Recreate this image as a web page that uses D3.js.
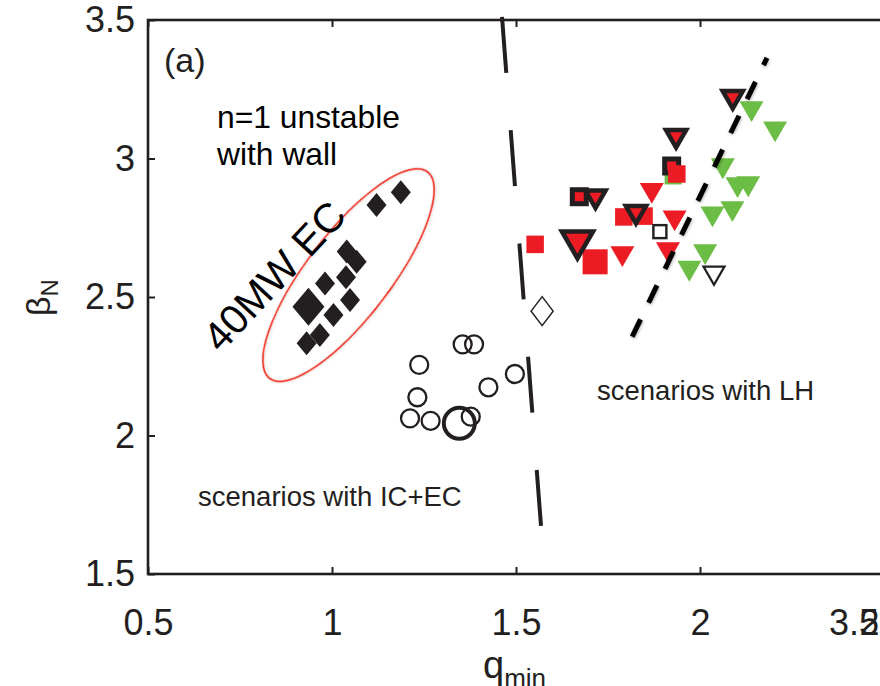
<!DOCTYPE html>
<html>
<head>
<meta charset="utf-8">
<script src="https://cdn.jsdelivr.net/npm/d3@7"></script>
<style>
  html, body { margin: 0; padding: 0; background: #fff; overflow: hidden; }
  svg { display: block; font-family: "Liberation Sans", Arial, Helvetica, sans-serif; }
</style>
</head>
<body>
<svg id="chart" width="880" height="686"></svg>
<script>
// Axis ticks
const xTicks = [0.5, 1, 1.5, 2, 2.5];
const yTicks = [1.5, 2, 2.5, 3, 3.5];

// 40 MW EC cases: [q_min, beta_N]
const ecDiamonds = [[1.187, 2.878], [1.121, 2.832], [1.040, 2.664], [1.067, 2.627], [0.981, 2.549],
                    [1.038, 2.571], [1.049, 2.489], [1.004, 2.435], [0.967, 2.363], [0.931, 2.333]];
const ecDiamondsLarge = [[0.936, 2.465]];

// IC+EC scenarios
const icecCircles = [[1.355, 2.329], [1.386, 2.329], [1.237, 2.255], [1.497, 2.222], [1.425, 2.174],
                     [1.232, 2.138], [1.212, 2.062], [1.268, 2.053], [1.377, 2.068]];
const icecCirclesLarge = [[1.346, 2.044]];
const openDiamonds = [[1.571, 2.449]];

// LH scenarios
const lhGreenTriangles = [[2.140, 3.169], [2.204, 3.096], [2.062, 2.963], [2.102, 2.895], [2.131, 2.898],
                          [2.034, 2.789], [2.088, 2.808], [2.014, 2.653], [1.971, 2.593]];
const lhGreenSquares = [[1.927, 2.937]];
const lhOutlinedSquares = [[1.672, 2.862], [1.923, 2.973]];
const lhRedSquares = [[1.552, 2.690], [1.793, 2.789], [1.848, 2.792], [1.937, 2.944]];
const lhRedSquaresLarge = [[1.715, 2.627]];
const lhRedTriangles = [[1.789, 2.646], [1.869, 2.874], [1.931, 2.775], [1.913, 2.660]];
const lhOutlinedTriangles = [[1.716, 2.849], [1.826, 2.793], [1.935, 3.067], [2.089, 3.208]];
const lhOutlinedTrianglesLarge = [[1.667, 2.684]];
const openSquares = [[1.891, 2.736]];
const openTriangles = [[2.038, 2.577]];

// Boundaries between regions
const icecBoundary = [[1.462, 3.511], [1.568, 1.673]];
const lhBoundary = [[2.182, 3.363], [1.810, 2.341]];

// Outline round the 40 MW EC group (centre in data units)
const ecGroupCentre = [1.045, 2.579];

const INK = "#231f20", RED = "#ed1c24", GREEN = "#6cbd45";

const svg = d3.select("#chart");
const x = d3.scaleLinear().domain([0.5, 2.5]).range([148, 884]);
const y = d3.scaleLinear().domain([1.5, 3.5]).range([574, 20]);

const defs = svg.append("defs");
const shadow = defs.append("filter").attr("id", "soft").attr("x", "-20%").attr("y", "-20%")
  .attr("width", "140%").attr("height", "140%");
shadow.append("feDropShadow").attr("dx", 0.5).attr("dy", 1).attr("stdDeviation", 1.8)
  .attr("flood-color", "#000").attr("flood-opacity", 0.35);
const faint = defs.append("filter").attr("id", "faint").attr("x", "-10%").attr("y", "-10%")
  .attr("width", "120%").attr("height", "120%");
faint.append("feDropShadow").attr("dx", 0.5).attr("dy", 1).attr("stdDeviation", 1.5)
  .attr("flood-color", "#000").attr("flood-opacity", 0.15);

// ---- axes ----
const fontTick = 36;
const axisB = d3.axisBottom(x).tickValues(xTicks).tickFormat(d3.format("")).tickSizeInner(-7).tickSizeOuter(0).tickPadding(35);
const axisT = d3.axisTop(x).tickValues(xTicks).tickFormat("").tickSizeInner(-7).tickSizeOuter(0);
const axisL = d3.axisLeft(y).tickValues(yTicks).tickFormat(d3.format("")).tickSizeInner(-7).tickSizeOuter(0).tickPadding(13);

function styleAxis(g) {
  g.select(".domain").remove();
  g.selectAll(".tick line").attr("stroke", INK).attr("stroke-width", 2);
  g.selectAll(".tick text").attr("fill", INK).attr("font-size", fontTick)
    .attr("font-family", "Liberation Sans, Arial, sans-serif");
}
svg.append("g").attr("transform", `translate(0,${y(1.5)})`).call(axisB).call(styleAxis);
svg.append("g").attr("transform", `translate(0,${y(3.5)})`).call(axisT).call(styleAxis);
svg.append("g").attr("transform", `translate(${x(0.5)},0)`).call(axisL).call(styleAxis);

// frame
svg.append("rect").attr("x", x(0.5)).attr("y", y(3.5))
  .attr("width", x(2.5) - x(0.5)).attr("height", y(1.5) - y(3.5))
  .attr("fill", "none").attr("stroke", INK).attr("stroke-width", 2.6);

// stray tick label at the right edge
svg.append("text").attr("x", 854).attr("y", y(1.5) + 35).attr("dy", "0.71em")
  .attr("text-anchor", "middle").attr("font-size", fontTick).attr("fill", INK).text("3.5");

// axis titles
const xt = svg.append("text").attr("x", 483).attr("y", 678).attr("fill", INK);
xt.append("tspan").attr("font-size", 38).text("q");
xt.append("tspan").attr("font-size", 26).attr("dy", 9).text("min");

const yt = svg.append("text").attr("transform", "translate(50,316) rotate(-90)").attr("fill", INK);
yt.append("tspan").attr("font-size", 34).text("β");
yt.append("tspan").attr("font-size", 24).attr("dy", 8).text("N");

// ---- helpers ----
const tri = (cx, cy, w) => {
  const h = w * 0.866;
  return `M${cx - w / 2},${cy - h / 2}L${cx + w / 2},${cy - h / 2}L${cx},${cy + h / 2}Z`;
};
const diamond = (cx, cy, hw, hh) => `M${cx},${cy - hh}L${cx + hw},${cy}L${cx},${cy + hh}L${cx - hw},${cy}Z`;

function squares(data, side, attrs) {
  const s = svg.append("g").selectAll("rect").data(data).join("rect")
    .attr("x", d => x(d[0]) - side / 2).attr("y", d => y(d[1]) - side / 2)
    .attr("width", side).attr("height", side);
  Object.entries(attrs).forEach(([k, v]) => s.attr(k, v));
  return s;
}
function triangles(data, w, attrs) {
  const s = svg.append("g").selectAll("path").data(data).join("path")
    .attr("d", d => tri(x(d[0]), y(d[1]), w));
  Object.entries(attrs).forEach(([k, v]) => s.attr(k, v));
  return s;
}
// down-pointing triangle with a black band of thickness t round a red core
function outlinedTriangles(data, w, t) {
  const g = svg.append("g");
  data.forEach(d => {
    const cx = x(d[0]), cy = y(d[1]);
    const h = w * 0.866, r = h / 3, k = 1 - t / r;
    g.append("path").attr("d", tri(cx, cy, w)).attr("fill", INK);
    const icy = cy - h / 6;
    g.append("path").attr("d", tri(cx, icy + k * h / 6, w * k)).attr("fill", RED);
  });
}
function outlinedSquares(data, outer, inner) {
  const g = svg.append("g");
  data.forEach(d => {
    const cx = x(d[0]), cy = y(d[1]);
    g.append("rect").attr("x", cx - outer / 2).attr("y", cy - outer / 2).attr("width", outer).attr("height", outer).attr("fill", INK);
    g.append("rect").attr("x", cx - inner / 2).attr("y", cy - inner / 2).attr("width", inner).attr("height", inner).attr("fill", RED);
  });
}

// ---- 40 MW EC group ----
svg.append("ellipse")
  .attr("transform", `translate(${x(ecGroupCentre[0])},${y(ecGroupCentre[1])}) rotate(-52.6)`)
  .attr("rx", 130).attr("ry", 42)
  .attr("fill", "none").attr("stroke", "#ee2a1c").attr("stroke-width", 1.7)
  .attr("filter", "url(#faint)");

svg.append("g").selectAll("path").data(ecDiamonds).join("path")
  .attr("d", d => diamond(x(d[0]), y(d[1]), 10, 12)).attr("fill", INK);
svg.append("g").selectAll("path").data(ecDiamondsLarge).join("path")
  .attr("d", d => diamond(x(d[0]), y(d[1]), 16, 19)).attr("fill", INK);

// ---- IC+EC ----
svg.append("g").selectAll("circle").data(icecCircles).join("circle")
  .attr("cx", d => x(d[0])).attr("cy", d => y(d[1])).attr("r", 9)
  .attr("fill", "none").attr("stroke", INK).attr("stroke-width", 2.3);
svg.append("g").selectAll("circle").data(icecCirclesLarge).join("circle")
  .attr("cx", d => x(d[0])).attr("cy", d => y(d[1])).attr("r", 15.5)
  .attr("fill", "none").attr("stroke", INK).attr("stroke-width", 4);
svg.append("g").selectAll("path").data(openDiamonds).join("path")
  .attr("d", d => diamond(x(d[0]), y(d[1]), 11, 14.5))
  .attr("fill", "#fff").attr("stroke", INK).attr("stroke-width", 1.5);

// ---- LH ----
triangles(lhGreenTriangles, 24, { fill: GREEN });
squares(lhGreenSquares, 17, { fill: GREEN });
outlinedSquares(lhOutlinedSquares, 19, 9);
squares(lhRedSquares, 17.5, { fill: RED });
squares(lhRedSquaresLarge, 25, { fill: RED });
triangles(lhRedTriangles, 24, { fill: RED });
outlinedTriangles(lhOutlinedTriangles, 28, 4.5);
outlinedTriangles(lhOutlinedTrianglesLarge, 39, 4.6);
squares(openSquares, 13, { fill: "#fff", stroke: INK, "stroke-width": 2.4 });
triangles(openTriangles, 21, { fill: "#fff", stroke: INK, "stroke-width": 2.2 });

// ---- boundaries ----
const line = d3.line().x(d => x(d[0])).y(d => y(d[1]));
svg.append("path").attr("d", line(icecBoundary))
  .attr("fill", "none").attr("stroke", INK).attr("stroke-width", 4)
  .attr("stroke-dasharray", "56,57.6");
svg.append("path").attr("d", line(lhBoundary))
  .attr("fill", "none").attr("stroke", "#000").attr("stroke-width", 5)
  .attr("stroke-dasharray", "19.2,18.5").attr("stroke-dashoffset", 11.2)
  .attr("filter", "url(#soft)");

// ---- annotations ----
svg.append("text").attr("x", 164).attr("y", 72).attr("font-size", 34).attr("fill", INK).text("(a)");
svg.append("text").attr("x", 217).attr("y", 128).attr("font-size", 31.8).attr("fill", "#000").text("n=1 unstable");
svg.append("text").attr("x", 217).attr("y", 165).attr("font-size", 31.8).attr("fill", "#000").text("with wall");
svg.append("text").attr("transform", "translate(221,354) rotate(-47)")
  .attr("font-size", 41).attr("fill", "#000").text("40MW EC");
svg.append("text").attr("x", 198).attr("y", 506).attr("font-size", 27.5).attr("fill", INK).text("scenarios with IC+EC");
svg.append("text").attr("x", 597).attr("y", 400).attr("font-size", 27.5).attr("fill", INK).text("scenarios with LH");
</script>
</body>
</html>
